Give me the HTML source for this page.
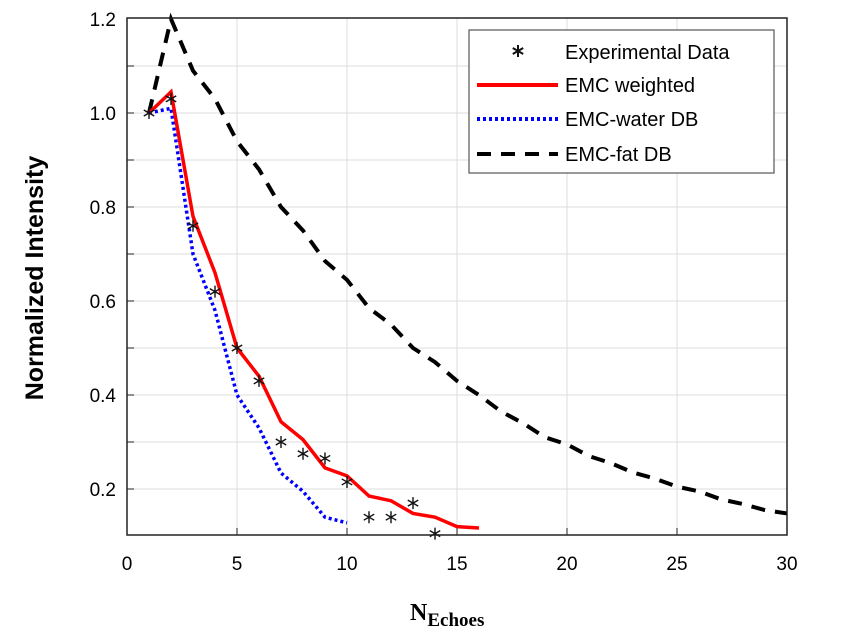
<!DOCTYPE html>
<html><head><meta charset="utf-8">
<style>
body{margin:0;background:#fff;}
svg text{font-family:"Liberation Sans",Arial,sans-serif;}
</style></head>
<body>
<svg id="chart" width="868" height="635" viewBox="0 0 868 635" xmlns="http://www.w3.org/2000/svg">
<g id="grid"></g>
<g id="series"></g>
<rect x="127" y="18" width="660" height="517" fill="none" stroke="#222" stroke-width="1.5"/>
<g id="ticks"></g>
<text transform="translate(43,278) rotate(-90)" text-anchor="middle" font-size="25" font-weight="bold" style="font-family:'Liberation Sans',Arial,sans-serif">Normalized Intensity</text>
<text x="410" y="620" font-size="24" font-weight="bold" style="font-family:'Liberation Serif',serif">N<tspan font-size="19" dy="6">Echoes</tspan></text>
<g id="legend">
<rect x="469" y="30" width="305" height="143" fill="#fff" stroke="#555" stroke-width="1.2"/>
<text x="565" y="59" font-size="20">Experimental Data</text>
<line x1="477" y1="85" x2="558" y2="85" stroke="#f00" stroke-width="4"/>
<text x="565" y="92" font-size="20">EMC weighted</text>
<line x1="477" y1="119" x2="558" y2="119" stroke="#00f" stroke-width="4" stroke-dasharray="3,3"/>
<text x="565" y="126" font-size="20">EMC-water DB</text>
<line x1="477" y1="154" x2="558" y2="154" stroke="#000" stroke-width="4" stroke-dasharray="14,10"/>
<text x="565" y="161" font-size="20">EMC-fat DB</text>
</g>
</svg>
<script>
const xTicks=[0,5,10,15,20,25,30];
const yTicks=[0.2,0.4,0.6,0.8,1.0,1.2];
const yGrid=[0.2,0.3,0.4,0.5,0.6,0.7,0.8,0.9,1.0,1.1];
const echoesWeighted=[1,2,3,4,5,6,7,8,9,10,11,12,13,14,15,16];
const weighted=[1.0,1.045,0.78,0.66,0.5,0.44,0.343,0.305,0.245,0.228,0.185,0.175,0.148,0.14,0.12,0.117];
const echoesWater=[1,2,3,4,5,6,7,8,9,10];
const water=[1.0,1.01,0.70,0.58,0.40,0.33,0.234,0.195,0.14,0.128];
const echoesExp=[1,2,3,4,5,6,7,8,9,10,11,12,13,14];
const experimental=[1.0,1.03,0.76,0.62,0.5,0.43,0.3,0.275,0.265,0.215,0.14,0.14,0.17,0.105];
const echoesFat=[1,2,3,4,5,6,7,8,9,10,11,12,13,14,15,16,17,18,19,20,21,22,23,24,25,26,27,28,29,30];
const fat=[1.0,1.2,1.09,1.03,0.94,0.88,0.8,0.75,0.685,0.645,0.585,0.55,0.5,0.47,0.43,0.40,0.365,0.34,0.31,0.295,0.27,0.255,0.235,0.222,0.205,0.195,0.178,0.168,0.155,0.148];
const NS='http://www.w3.org/2000/svg';
const X=v=>127+v*22;
const Y=v=>113-(v-1.0)*470;
const grid=document.getElementById('grid'),ticks=document.getElementById('ticks'),series=document.getElementById('series'),legend=document.getElementById('legend');
function mk(t,a,p){const e=document.createElementNS(NS,t);for(const k in a)e.setAttribute(k,a[k]);p.appendChild(e);return e;}
function star(cx,cy,r,p){
 const d=`M${cx},${cy-r}L${cx},${cy+r}M${cx-r*0.87},${cy-r/2}L${cx+r*0.87},${cy+r/2}M${cx-r*0.87},${cy+r/2}L${cx+r*0.87},${cy-r/2}`;
 return mk('path',{d:d,stroke:'#111','stroke-width':1.4,fill:'none'},p);
}
xTicks.forEach(v=>{
 const g=mk('line',{x1:X(v),x2:X(v),y1:18,y2:535,stroke:'#ddd','stroke-width':1},grid);
 
 
 const t=mk('line',{x1:X(v),x2:X(v),y1:528,y2:535,stroke:'#222','stroke-width':1},ticks);
 
 
 const l=mk('text',{x:X(v),y:570,'text-anchor':'middle','font-size':19},ticks);
 l.textContent=v;
 
 
});
yGrid.forEach(v=>{
 const g=mk('line',{x1:127,x2:787,y1:Y(v),y2:Y(v),stroke:'#ddd','stroke-width':1},grid);
 
 
 const t=mk('line',{x1:127,x2:134,y1:Y(v),y2:Y(v),stroke:'#222','stroke-width':1},ticks);
 
 
});
yTicks.forEach(v=>{
 const l=mk('text',{x:116,y:Y(v)+7,'text-anchor':'end','font-size':19},ticks);
 l.textContent=v.toFixed(1);
 
 
});
function line(xs,ys,attrs,name){
 const p=mk('polyline',Object.assign({points:xs.map((x,i)=>X(x)+','+Y(ys[i])).join(' '),fill:'none'},attrs),series);
 
 
}
line(echoesFat,fat,{stroke:'#000','stroke-width':4,'stroke-dasharray':'14,10'},'series-fat-db');
line(echoesWater,water,{stroke:'#00f','stroke-width':3.5,'stroke-dasharray':'3,3'},'series-water-db');
line(echoesWeighted,weighted,{stroke:'#f00','stroke-width':3.5},'series-weighted');
echoesExp.forEach((x,i)=>{
 const s=star(X(x),Y(experimental[i]),6,series);
 
 
});
const lm=star(518,51,6,legend);
lm.setAttribute('stroke-width','2');


</script>
</body></html>
